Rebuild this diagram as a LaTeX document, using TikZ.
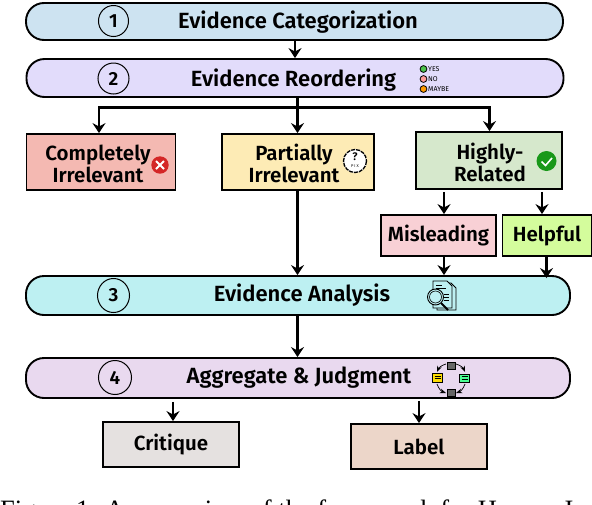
\documentclass[tikz,border=0pt]{standalone}
\usepackage{fontspec}
\setmainfont{Fira Sans}[BoldFont=Fira Sans SemiBold]
\newfontfamily\capfont{Liberation Serif}
\usetikzlibrary{arrows.meta,calc,shapes.geometric}
\definecolor{cA}{HTML}{CDE3F1}
\definecolor{cB}{HTML}{E2DCFB}
\definecolor{cC}{HTML}{BDF0F2}
\definecolor{cD}{HTML}{E9D9EF}
\definecolor{cRed}{HTML}{F4B9B2}
\definecolor{cYel}{HTML}{FDEBB5}
\definecolor{cGrn}{HTML}{D6E8CC}
\definecolor{cPink}{HTML}{F8D0D5}
\definecolor{cLime}{HTML}{D4FC9C}
\definecolor{cGrey}{HTML}{E5E1E0}
\definecolor{cTan}{HTML}{ECD6C9}
\tikzset{
  pill/.style={draw=black,line width=1.9pt,minimum height=#1,rounded corners=18pt,inner sep=0pt},
  pill/.default=38pt,
  boxn/.style={draw=black,line width=1.9pt,inner sep=0pt,align=center},
  lab/.style={font=\bfseries\fontsize{22}{22}\selectfont,inner sep=0pt,align=center,text=black},
  labb/.style={font=\bfseries\fontsize{20.5}{22}\selectfont,inner sep=0pt,align=center,text=black},
  numc/.style={draw=black,line width=1pt,ellipse,inner sep=0pt,font=\bfseries\fontsize{19}{19}\selectfont},
  arr/.style={draw=black,line width=2.3pt,-{Stealth[length=10pt,width=13pt,inset=3.5pt]}},
  wire/.style={draw=black,line width=2.3pt},
  tiny/.style={font=\fontsize{7}{7}\selectfont,inner sep=0pt,anchor=west}
}
\begin{document}
\begin{tikzpicture}[x=1pt,y=-1pt]
\useasboundingbox (0,0) rectangle (592,504);
\clip (0,0) rectangle (592,504);
\fill[white] (0,0) rectangle (592,504);
% pills
\node[pill=37pt,fill=cA,minimum width=537pt] (p1) at (294.5,21.5) {};
\node[pill=38pt,fill=cB,minimum width=537pt] (p2) at (295,78) {};
\node[pill=39pt,fill=cC,minimum width=544pt] (p3) at (298,295.5) {};
\node[pill=40pt,fill=cD,minimum width=544pt] (p4) at (298,378) {};
% numbers
\node[numc,minimum width=30pt,minimum height=31pt] (n1) at (113.5,21) {1};
\node[numc,minimum width=31pt,minimum height=31pt] (n2) at (113.5,78.5) {2};
\node[numc,minimum width=32pt,minimum height=34pt] (n3) at (113.5,295.5) {3};
\node[numc,minimum width=33pt,minimum height=34pt] (n4) at (115,377.5) {4};
% pill labels
\node[lab] (t1) at (298,22) {Evidence Categorization};
\node[lab] (t2) at (293.5,80) {Evidence Reordering};
\node[lab] (t3) at (302,295) {Evidence Analysis};
\node[lab] (t4) at (299,378) {Aggregate \& Judgment};
% boxes
\node[boxn,fill=cRed,minimum width=149pt,minimum height=56pt] (b1) at (101,162) {};
\node[labb] (b1t) at (98,164) {Completely\\Irrelevant};
\node[boxn,fill=cYel,minimum width=152pt,minimum height=56pt] (b2) at (298,162) {};
\node[labb] (b2t) at (294,163) {Partially\\Irrelevant};
\node[boxn,fill=cGrn,minimum width=146pt,minimum height=57pt] (b3) at (489,160.5) {};
\node[labb] (b3t) at (490,162) {Highly-\\Related};
\node[boxn,fill=cPink,minimum width=115pt,minimum height=41pt,font=\bfseries\fontsize{20.5}{22}\selectfont] (m) at (438.5,235.5) {Misleading};
\node[boxn,fill=cLime,minimum width=89pt,minimum height=41pt,font=\bfseries\fontsize{20.5}{22}\selectfont] (h) at (547,235.5) {Helpful};
\node[boxn,fill=cGrey,minimum width=136pt,minimum height=45pt,font=\bfseries\fontsize{20.5}{22}\selectfont] (c) at (171,444.5) {Critique};
\node[boxn,fill=cTan,minimum width=136pt,minimum height=45pt,font=\bfseries\fontsize{20.5}{22}\selectfont] (l) at (419,446.5) {Label};
% x guides
\coordinate (xa) at (99,0);
\coordinate (xb) at (297.5,0);
\coordinate (xc) at (489.5,0);
\coordinate (xd) at (444,0);
\coordinate (xe) at (542,0);
\coordinate (xf) at (546.5,0);
\coordinate (xg) at (173,0);
\coordinate (xh) at (419,0);
\coordinate (xi) at (295,0);
\coordinate (hy) at (0,107.5);
% connectors
\draw[arr] (p1.south -| xi) -- (p2.north -| xi);
\draw[wire] (p2.south -| xb) -- (xb |- hy);
\draw[arr] (xb |- hy) -| (b1.north -| xa);
\draw[arr] (xb |- hy) -- (b2.north -| xb);
\draw[arr] (xb |- hy) -| (b3.north -| xc);
\draw[arr] (b2.south -| xb) -- (p3.north -| xb);
\draw[arr] ($(b3.south -| xd)+(0,2)$) -- (m.north -| xd);
\draw[arr] ($(b3.south -| xe)+(0,2)$) -- (h.north -| xe);
\draw[arr] (m.south -| xd) -- (p3.north -| xd);
\draw[arr] (h.south -| xf) -- ($(p3.north -| xf)+(0,3)$);
\draw[arr] (p3.south -| xb) -- (p4.north -| xb);
\draw[arr] ($(p4.south -| xg)+(0,3)$) -- (c.north -| xg);
\draw[arr] ($(p4.south -| xh)+(0,2)$) -- (l.north -| xh);
% red x icon
\fill[red!80!black!85] (160,165) circle (8.7);
\draw[white,line width=1.8pt] (156,161) -- (164,169) (164,161) -- (156,169);
% green check icon
\fill[green!55!black!90] (546.5,161) circle (10);
\draw[white,line width=1.6pt] (541.5,161.5) -- (545.5,165.5) -- (552,158);
% question icon
\fill[white] (355,161) circle (12);
\draw[black,line width=1.3pt,dash pattern=on 4pt off 1pt] (355,161) circle (11.5);
\node[font=\bfseries\fontsize{11}{11}\selectfont,inner sep=0pt] (qm) at (355,156.5) {?};
\node[font=\fontsize{4}{4}\selectfont,inner sep=0pt] (qt) at (355,166) {P I X};
% yes/no/maybe
\draw[black,fill=green!65!black!70,line width=.8pt] (423.5,69) circle (3.4);
\draw[black,fill=red!40,line width=.8pt] (423.5,79) circle (3.4);
\draw[black,fill=orange!80!yellow,line width=.8pt] (423.5,89) circle (3.4);
\node[tiny] (yes) at (428,69) {YES};
\node[tiny] (no) at (428,79) {NO};
\node[tiny] (mb) at (428,89) {MAYBE};
% document + magnifier icon
\draw[black,line width=.8pt,fill=cC] (437,283) -- (451,283) -- (456,288) -- (456,310) -- (437,310) -- cycle;
\draw[black,line width=.8pt,fill=cC] (433,281) -- (447,281) -- (452,286) -- (452,308) -- (433,308) -- cycle;
\draw[black,line width=.7pt] (436,285) -- (442,285) (436,288) -- (446,288) (444,294) -- (449,294) (444,297) -- (449,297) (444,300) -- (449,300);
\draw[black,line width=.9pt,fill=cC] (435.5,297) circle (8);
\draw[black,line width=.6pt] (435.5,297) circle (6);
\draw[black,line width=1.8pt] (441,303) -- (448,310);
% cycle icon
\draw[black,line width=.6pt,fill=yellow!80!orange] (432.5,373) rectangle (442.5,382);
\draw[black,line width=.6pt,fill=green!60!cyan!70] (459.5,374) rectangle (469.5,382);
\draw[black,line width=.4pt] (434.5,376) -- (440.5,376) (434.5,378.5) -- (440.5,378.5) (461.5,376.5) -- (467.5,376.5) (461.5,379) -- (467.5,379);
\draw[black,line width=.5pt,fill=black!60] (447,362) rectangle (455,369);
\draw[black,line width=.5pt,fill=black!60] (447,389) rectangle (455,396);
\draw[black,line width=.7pt,->,>=Stealth] (446,364) to[bend right=25] (437,372);
\draw[black,line width=.7pt,->,>=Stealth] (456,364) to[bend left=25] (465,372);
\draw[black,line width=.7pt,->,>=Stealth] (437,384) to[bend right=25] (446,393);
\draw[black,line width=.7pt,->,>=Stealth] (465,384) to[bend left=25] (456,393);
% caption
\node[font=\capfont\fontsize{26.5}{28}\selectfont,anchor=base west,inner sep=0pt] (cap) at (0,518.5) {Figure 1: An overview of the framework for Human-I};
\end{tikzpicture}
\end{document}
